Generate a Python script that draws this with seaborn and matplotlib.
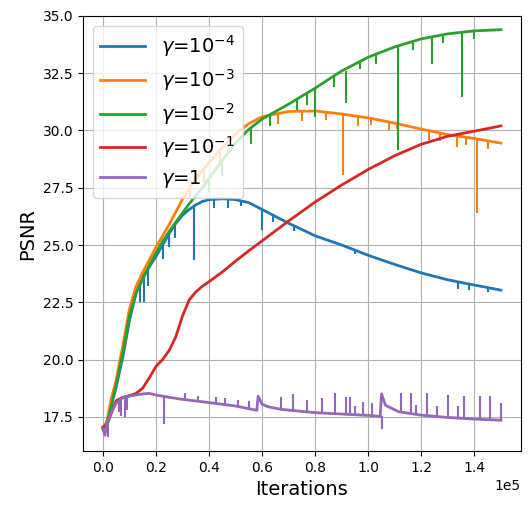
import matplotlib
matplotlib.use("Agg")
import matplotlib.pyplot as plt
import seaborn as sns
import numpy as np

# shared iteration grid for the four smooth-ish runs
iters = [0, 1500, 3000, 5000, 7500, 10000, 12500, 15000, 17500, 20000, 22500,
         25000, 27500, 30000, 32500, 35000, 37500, 40000, 45000, 50000, 55000,
         60000, 70000, 80000, 90000, 100000, 110000, 120000, 130000, 140000, 150000]

psnr_g1e4 = [17.0, 17.2, 17.9, 18.8, 20.1, 21.7, 22.9, 23.6, 24.05, 24.5, 25.0,
             25.5, 25.95, 26.3, 26.55, 26.75, 26.9, 26.98, 27.02, 26.98, 26.85,
             26.55, 25.95, 25.4, 25.0, 24.55, 24.15, 23.78, 23.48, 23.25, 23.03]
psnr_g1e3 = [17.0, 17.3, 18.2, 19.1, 20.6, 22.2, 23.2, 23.8, 24.35, 24.9, 25.4,
             25.9, 26.45, 27.0, 27.45, 27.9, 28.25, 28.6, 29.25, 29.85, 30.3,
             30.6, 30.83, 30.85, 30.72, 30.55, 30.32, 30.06, 29.82, 29.65, 29.45]
psnr_g1e2 = [17.0, 17.2, 17.9, 18.9, 20.3, 21.9, 22.9, 23.5, 24.1, 24.65, 25.15,
             25.6, 26.0, 26.4, 26.8, 27.15, 27.5, 27.9, 28.7, 29.45, 30.05,
             30.5, 31.15, 31.85, 32.6, 33.2, 33.65, 34.0, 34.22, 34.35, 34.4]
psnr_g1e1 = [17.05, 17.15, 17.6, 18.2, 18.35, 18.42, 18.52, 18.75, 19.2, 19.7, 20.0,
             20.4, 21.0, 21.9, 22.6, 22.95, 23.2, 23.4, 23.82, 24.3, 24.75,
             25.18, 26.05, 26.88, 27.62, 28.3, 28.9, 29.4, 29.75, 29.97, 30.2]

# gamma = 1 has two jumps, so it gets its own grid
iters_g1 = [0, 800, 1500, 3000, 5000, 7500, 10000, 15000, 17500, 20000, 25000,
            30000, 40000, 50000, 58000, 58500, 60000, 62500, 67500, 80000, 90000,
            100000, 104500, 105000, 106500, 111500, 120000, 130000, 140000, 150000]
psnr_g1 = [16.95, 16.7, 17.2, 17.65, 18.1, 18.33, 18.4, 18.5, 18.52, 18.45, 18.35,
           18.26, 18.12, 17.97, 17.78, 18.4, 18.05, 17.93, 17.82, 17.68, 17.62,
           17.56, 17.52, 18.5, 18.0, 17.72, 17.57, 17.47, 17.4, 17.35]

# spikes: iteration, start value, end value
spikes_g1e4_x = [14000, 15500, 17000, 22500, 25000, 27000, 34500, 42000, 47000, 52000,
                 60000, 64000, 72000, 95000, 134000, 138000, 145000]
spikes_g1e4_a = [23.4, 23.6, 23.9, 25.0, 25.5, 25.85, 26.7, 27.0, 27.02, 26.98,
                 26.55, 26.3, 25.85, 24.8, 23.4, 23.3, 23.15]
spikes_g1e4_b = [22.5, 22.5, 23.2, 24.4, 24.9, 25.3, 24.35, 26.6, 26.6, 26.7,
                 25.65, 26.0, 25.6, 24.6, 23.1, 23.05, 22.95]

spikes_g1e3_x = [33000, 38000, 44000, 66000, 75000, 84000, 90500, 96000, 101000,
                 108000, 111000, 123000, 127000, 133500, 137000, 141000, 145000]
spikes_g1e3_a = [27.6, 28.3, 29.1, 30.75, 30.85, 30.8, 30.72, 30.6, 30.5,
                 30.35, 30.3, 30.0, 29.9, 29.78, 29.7, 29.63, 29.55]
spikes_g1e3_b = [27.1, 27.7, 28.5, 30.3, 30.4, 30.45, 28.05, 30.2, 30.25,
                 30.0, 30.05, 29.6, 29.55, 29.3, 29.35, 26.4, 29.2]

spikes_g1e2_x = [40000, 45000, 56000, 63000, 73000, 77000, 80000, 87000, 91700,
                 97000, 103000, 111300, 117000, 124000, 128000, 135500, 140000]
spikes_g1e2_a = [27.9, 28.7, 30.15, 30.7, 31.4, 31.65, 31.85, 32.4, 32.6,
                 33.05, 33.35, 33.7, 33.9, 34.1, 34.2, 34.3, 34.35]
spikes_g1e2_b = [27.3, 28.0, 29.4, 30.2, 30.9, 31.1, 30.6, 31.9, 31.2,
                 32.7, 32.9, 29.15, 33.5, 32.9, 33.8, 31.45, 34.0]

spikes_g1_x = [2000, 6000, 7000, 8500, 9000, 23000, 31000, 36000, 42500, 46000, 51000,
               55000, 67000, 71500, 77000, 82500, 87500, 91500, 93000, 95000, 98000,
               101500, 105000, 112500, 116000, 118000, 122000, 126000, 130000, 134000,
               136000, 142000, 146000, 150000]
spikes_g1_a = [17.3, 18.2, 18.3, 18.35, 18.35, 18.4, 18.25, 18.18, 18.1, 18.02, 17.95,
               17.88, 17.83, 17.8, 17.72, 17.67, 17.65, 17.63, 17.63, 17.6, 17.57,
               17.55, 17.52, 17.7, 17.65, 17.6, 17.55, 17.52, 17.47, 17.43,
               17.42, 17.4, 17.38, 17.35]
spikes_g1_b = [16.6, 17.7, 17.55, 17.5, 17.8, 17.2, 18.55, 18.4, 18.38, 18.3, 18.25,
               18.2, 18.35, 18.5, 18.25, 18.3, 18.55, 18.35, 18.35, 17.95, 18.15,
               18.1, 16.95, 18.55, 18.53, 18.0, 18.53, 17.95, 18.45, 17.98,
               18.4, 18.4, 18.42, 18.1]

labels = [r"$\gamma$=$10^{-4}$", r"$\gamma$=$10^{-3}$", r"$\gamma$=$10^{-2}$",
          r"$\gamma$=$10^{-1}$", r"$\gamma$=1"]
colors = sns.color_palette("tab10", 5)

fig = plt.figure(figsize=(5.32, 5.15), dpi=100)
ax = fig.add_axes([0.156, 0.124, 0.823, 0.845])

series = [(iters, psnr_g1e4, spikes_g1e4_x, spikes_g1e4_a, spikes_g1e4_b),
          (iters, psnr_g1e3, spikes_g1e3_x, spikes_g1e3_a, spikes_g1e3_b),
          (iters, psnr_g1e2, spikes_g1e2_x, spikes_g1e2_a, spikes_g1e2_b),
          (iters, psnr_g1e1, [], [], []),
          (iters_g1, psnr_g1, spikes_g1_x, spikes_g1_a, spikes_g1_b)]

for (xs, ys, sx, sa, sb), lab, c in zip(series, labels, colors):
    sns.lineplot(x=xs, y=ys, ax=ax, color=c, linewidth=2.0, label=lab)
    if sx:
        ax.vlines(sx, sa, sb, color=c, linewidth=1.5)

ax.set_xlim(-7500, 157500)
ax.set_ylim(16, 35)
ax.set_yticks(np.arange(17.5, 35.1, 2.5))
ax.ticklabel_format(axis="x", style="sci", scilimits=(0, 0))
ax.grid(True, color="#b0b0b0", linewidth=0.8)
ax.tick_params(labelsize=10)
ax.set_xlabel("Iterations", fontsize=14)
ax.set_ylabel("PSNR", fontsize=14)
ax.legend(loc="upper left", fontsize=14, handlelength=2.3, labelspacing=0.4)

fig.savefig("out.png", dpi=100)
